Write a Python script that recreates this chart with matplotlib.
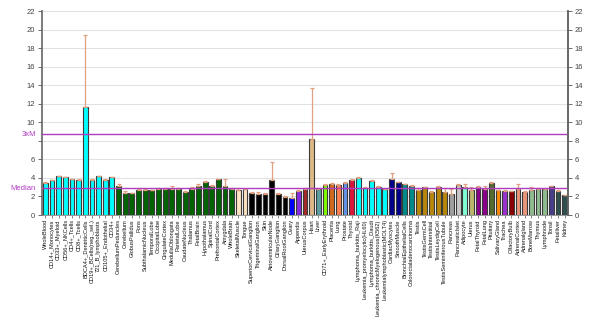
import numpy as np
import matplotlib
matplotlib.use('Agg')
import matplotlib.pyplot as plt
import matplotlib.transforms as mtrans

plt.rcParams['font.family'] = ['Liberation Sans Narrow', 'Liberation Sans', 'DejaVu Sans']

tissues = ['WholeBlood', 'CD14+_Monocytes', 'CD33+_Myeloid', 'CD56+_NKCells', 'CD4+_Tcells',
           'CD8+_Tcells', 'BDCA4+_DentriticCells', 'CD19+_BCells(neg._sel.)', '721_B_lymphoblasts',
           'CD105+_Endothelial', 'CD34+', 'CerebellumPeduncles', 'Cerebellum', 'GlobusPallidus',
           'Pons', 'SubthalamicNucleus', 'TemporalLobe', 'OccipitalLobe', 'CingulateCortex',
           'MedullaOblongata', 'ParietalLobe', 'CaudateNucleus', 'Thalamus', 'FetalBrain',
           'Hypothalamus', 'SpinalCord', 'PrefrontalCortex', 'Amygdala', 'WholeBrain',
           'SkeletalMuscle', 'Tongue', 'SuperiorCervicalGanglion', 'TrigeminalGanglion', 'Skin',
           'AtrioventricularNode', 'CiliaryGanglion', 'DorsalRootGanglion', 'Ovary', 'Appendix',
           'UterusCorpus', 'Heart', 'Liver', 'CD71+_EarlyErythroid', 'Placenta', 'Lung',
           'Prostate', 'Thyroid', 'Lymphoma_burkitts_Raji', 'Leukemia_promyelocytic(HL60)',
           'Lymphoma_burkitts_Daudi', 'Leukemia_chronicMyelogenous(K562)',
           'Leukemialymphoblastic(MOLT4)', 'CardiacMyocytes', 'SmoothMuscle',
           'BronchialEpithelialCells', 'Colorectaladenocarcinoma', 'Testis', 'TestisGermCell',
           'TestisInterstitial', 'TestisLeydigCell', 'TestisSeminiferousTubule', 'Pancreas',
           'PancreaticIslet', 'Adipocyte', 'Uterus', 'FetalThyroid', 'FetalLung', 'Pituitary',
           'SalivaryGland', 'Trachea', 'OlfactoryBulb', 'AdrenalCortex', 'Adrenalgland',
           'BoneMarrow', 'Thymus', 'Lymphnode', 'Tonsil', 'Fetalliver', 'Kidney']

values = [3.42, 3.74, 4.17, 4.1, 3.85, 3.82, 11.65, 3.78, 4.2, 3.82, 4.08,
          3.13, 2.41, 2.37, 2.7, 2.75, 2.7, 2.77, 2.83, 2.83, 2.77, 2.52, 2.83, 3.13,
          3.52, 3.13, 3.88, 3.13, 2.77, 2.7, 2.8,
          2.34, 2.27, 2.23, 3.78, 2.27, 1.97, 1.87, 2.62, 2.8, 8.17, 2.8, 3.24, 3.34,
          3.24, 3.49, 3.78,
          4.03, 2.88, 3.7, 3.05, 2.77, 3.88, 3.56, 3.34, 3.16,
          2.7, 2.97, 2.52, 3.04, 2.53, 2.3, 3.22, 2.99, 2.7, 3.06, 2.8, 3.42, 2.66,
          2.55, 2.55, 2.8, 2.48, 2.7, 2.77, 2.77, 3.13, 2.6, 2.16]

errors = [0.15, 0.05, 0.05, 0.05, 0.05, 0.05, 7.8, 0.05, 0.05, 0.1, 0.05,
          0.25, 0.2, 0.05, 0.1, 0.1, 0.05, 0.15, 0.1, 0.3, 0.1, 0.1, 0.15, 0.2,
          0.15, 0.15, 0.05, 0.75, 0.1, 0.2, 0.05,
          0.1, 0.2, 0.1, 1.97, 0.1, 0.1, 0.55, 0.1, 0.15, 5.5, 0.1, 0.1, 0.15,
          0.1, 0.05, 0.1,
          0.05, 0.15, 0.05, 0.05, 0.05, 0.7, 0.05, 0.05, 0.05,
          0.2, 0.1, 0.1, 0.1, 0.35, 0.55, 0.1, 0.35, 0.3, 0.1, 0.3, 0.1, 0.05,
          0.1, 0.05, 0.55, 0.1, 0.3, 0.1, 0.05, 0.05, 0.15, 0.05]

# colour of each tissue group, with group sizes
groups = [('#00ffff', 11), ('#006400', 18), ('#ffe4c4', 2), ('#000000', 6), ('#0000ff', 1),
          ('#8a2be2', 1), ('#a52a2a', 1), ('#deb887', 1), ('#5f9ea0', 1), ('#7fff00', 1),
          ('#d2691e', 1), ('#ff7f50', 1), ('#6495ed', 1), ('#dc143c', 1), ('#00ffff', 5),
          ('#00008b', 2), ('#008b8b', 2), ('#b8860b', 5), ('#a0a0a0', 1), ('#c8c8c8', 1),
          ('#7fffd4', 1), ('#bdb76b', 1), ('#8b008b', 2), ('#556b2f', 1), ('#ff8c00', 1),
          ('#9932cc', 1), ('#8b0000', 1), ('#e9967a', 2), ('#8fbc8f', 3), ('#483d8b', 1),
          ('#2f4f4f', 2)]

median = 2.9
ticks = list(range(0, 23, 2))

colors = []
for c, n in groups:
    colors += [c] * n

fig = plt.figure(figsize=(6.11, 3.24), dpi=100)
ax = fig.add_axes([0.0687, 0.3364, 0.8609, 0.6296])
x = np.arange(len(tissues))

ax.bar(x, values, width=0.72, color=colors, edgecolor='#3a3a3a', linewidth=0.8, zorder=3)
ax.errorbar(x, values, yerr=[np.zeros(len(errors)), errors], fmt='none',
            ecolor='#e0a080', elinewidth=0.9, capsize=1.5, capthick=0.9, zorder=4)

ax.axhline(median, color='#b03cc0', linewidth=1.0, zorder=5)
ax.axhline(3 * median, color='#b03cc0', linewidth=1.0, zorder=5)

ax.set_xlim(-0.5, len(tissues) - 0.5)
ax.set_ylim(0, 22)
ax.set_yticks(ticks)
ax.set_yticklabels(['' if t == 8 else str(t) for t in ticks], fontsize=5.5, color='#444444')
ax.yaxis.grid(True, color='#e2e2e2', linewidth=0.8, zorder=0)
ax.set_xticks(x)
ax.set_xticklabels(tissues, rotation=90, fontsize=4.1, color='#111111')
ax.tick_params(axis='x', length=2, width=0.5, pad=1, color='#555555')
ax.tick_params(axis='y', length=3, width=0.6, pad=2, color='#555555')

for s in ['top']:
    ax.spines[s].set_visible(False)
for s in ['left', 'right']:
    ax.spines[s].set_color('#666666')
    ax.spines[s].set_linewidth(1.2)
ax.spines['bottom'].set_color('#888888')
ax.spines['bottom'].set_linewidth(0.6)

tr = mtrans.blended_transform_factory(ax.transAxes, ax.transData)
ax.text(-0.012, median, 'Median', transform=tr, ha='right', va='center',
        fontsize=5.5, color='#b03cc0')
ax.text(-0.012, 3 * median, '3xM', transform=tr, ha='right', va='center',
        fontsize=5.5, color='#b03cc0')

ax2 = ax.twinx()
ax2.set_ylim(0, 22)
ax2.set_yticks(ticks)
ax2.set_yticklabels([str(t) for t in ticks], fontsize=5.5, color='#444444')
ax2.tick_params(axis='y', length=3, width=0.6, pad=2, color='#555555')
for s in ['top', 'bottom', 'left']:
    ax2.spines[s].set_visible(False)
ax2.spines['right'].set_color('#666666')
ax2.spines['right'].set_linewidth(1.2)

fig.savefig('out.png', dpi=100)
